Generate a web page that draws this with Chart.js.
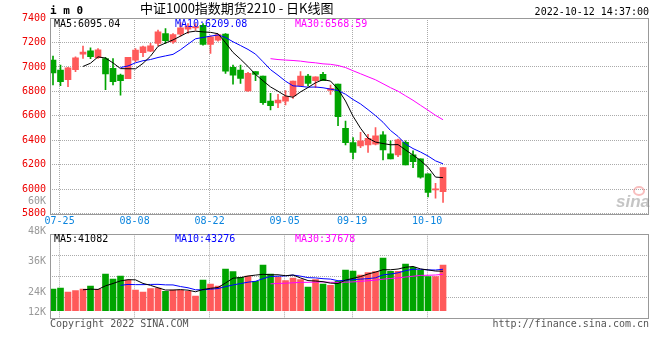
<!DOCTYPE html>
<html>
<head>
<meta charset="utf-8">
<script src="https://cdn.jsdelivr.net/npm/chart.js@4.4.1/dist/chart.umd.min.js"></script>
<style>
  html, body { margin: 0; padding: 0; background: #fff; }
  #wrap { position: relative; width: 660px; height: 360px; }
  #wrap canvas { position: absolute; left: 0; top: 0; }
</style>
</head>
<body>
<div id="wrap">
  <canvas id="kline" width="660" height="360"></canvas>
  <canvas id="volume" width="660" height="360"></canvas>
</div>
<script>
// trading days shown, 2022
const dates = ['07-22','07-25','07-26','07-27','07-28','07-29','08-01','08-02','08-03','08-04','08-05',
  '08-08','08-09','08-10','08-11','08-12','08-15','08-16','08-17','08-18','08-19',
  '08-22','08-23','08-24','08-25','08-26','08-29','08-30','08-31','09-01','09-02',
  '09-05','09-06','09-07','09-08','09-09','09-13','09-14','09-15','09-16',
  '09-19','09-20','09-21','09-22','09-23','09-26','09-27','09-28','09-29','09-30',
  '10-10','10-11','10-12'];
const axisDates = ['07-25','08-08','08-22','09-05','09-19','10-10'];

const opens = [7056,6974,6895,6977,7105,7132,7075,7069,6988,6933, 6904,7056,7116,7129,7192,7273,7205,7268,7309,7318,
  7341,7184,7219,7268,6996,6974,6803,6961,6925,6721, 6705,6721,6762,6846,6925,6887,6939,6808,6860,6498,
  6381,6354,6362,6368,6444,6289,6281,6384,6281,6248, 6126,5995,5981];
const highs = [7088,7015,6996,7083,7170,7156,7151,7078,7069,6942, 7078,7151,7170,7192,7301,7314,7273,7363,7355,7355,
  7355,7254,7268,7273,7015,7015,6955,6961,6925,6784, 6776,6806,6884,6961,6939,6920,6955,6852,6860,6558,
  6422,6466,6449,6504,6471,6395,6411,6395,6313,6248, 6126,6049,6177];
const lows = [6852,6846,6838,6961,7069,7067,7069,6814,6852,6770, 6904,7042,7083,7124,7173,7192,7192,7252,7273,7300,
  7178,7110,7211,6947,6860,6865,6800,6887,6694,6648, 6667,6689,6743,6838,6844,6830,6887,6776,6520,6362,
  6248,6340,6300,6362,6240,6248,6267,6199,6177,6090, 5938,5927,5892];
const closes = [6952,6879,6993,7075,7121,7083,7140,6942,6879,6887, 7078,7137,7165,7173,7287,7214,7265,7320,7333,7330,
  7184,7246,7265,6966,6933,6906,6947,6939,6708,6683, 6729,6757,6884,6925,6865,6920,6887,6825,6593,6381,
  6300,6395,6417,6436,6321,6248,6403,6199,6226,6098, 5973,6000,6177];
const volumes = [22560,23600,19430,20820,22560,25680,22210,38170,32970,36090, 31920,21510,19430,22900,23600,20130,21510,21510,20130,15270,
  31920,27760,25680,43380,40600,34700,36090,30540,47540,38170, 34700,31230,34010,32270,24640,32270,27760,26370,30540,42330,
  41290,37130,39560,40600,54830,40950,40950,48580,45110,41990, 35390,35390,47540];
const volTickLabels = ['60K','48K','36K','24K','12K'];
// legend values as printed on the chart
const priceLegend = ['MA5:6095.04', 'MA10:6209.08', 'MA30:6568.59'];
const volLegend = ['MA5:41082', 'MA10:43276', 'MA30:37678'];

const RED = '#ff5a5a', GREEN = '#00a400';
const MA_COLORS = ['#000000', '#0000ff', '#ff00ff'];
const MONO = '"DejaVu Sans Mono", monospace';
const up = closes.map((c, i) => c >= opens[i]);
const candleColor = (ctx) => (up[ctx.dataIndex] ? RED : GREEN);

function movingAvg(src, n) {
  return src.map((_, i) => i < n - 1 ? null : src.slice(i - n + 1, i + 1).reduce((a, b) => a + b, 0) / n);
}
function toPoints(arr) {
  return arr.map((v, i) => ({ x: i, y: v })).filter((p) => p.y !== null);
}
function maLine(label, arr, color) {
  return { type: 'line', label, data: toPoints(arr), borderColor: color, borderWidth: 1, pointRadius: 0, tension: 0, order: 0 };
}
function xScale(showLabels) {
  return {
    type: 'linear', min: -0.4, max: 79.5, offset: false,
    afterBuildTicks: (s) => { s.ticks = axisDates.map((d) => ({ value: dates.indexOf(d) - 0.12 })); },
    afterFit: (s) => { s.height = showLabels ? 16 : 0; },
    ticks: { display: showLabels, autoSkip: false, maxRotation: 0, padding: 2, color: '#0a84de',
      font: { family: MONO, size: 10 }, callback: (v, i) => axisDates[i] },
    grid: { color: '#aaaaaa', drawTicks: false, offset: false },
    border: { display: false, dash: [1, 1] }
  };
}
function label(ctx, str, x, yMid, color, align, font) {
  ctx.font = font || ('10px ' + MONO);
  ctx.fillStyle = color;
  ctx.textAlign = align || 'left';
  ctx.textBaseline = 'alphabetic';
  ctx.fillText(str, x, yMid + 3.6);
}
function frame(ctx, a) {
  ctx.save();
  ctx.strokeStyle = '#999999';
  ctx.lineWidth = 1;
  ctx.strokeRect(Math.round(a.left) + 0.5, Math.round(a.top) + 0.5, Math.round(a.right - a.left) - 1, Math.round(a.bottom - a.top));
  ctx.restore();
}

const ma5 = movingAvg(closes, 5), ma10 = movingAvg(closes, 10), ma30 = movingAvg(closes, 30);
const vma5 = movingAvg(volumes, 5), vma10 = movingAvg(volumes, 10), vma30 = movingAvg(volumes, 30);
const legendX = [54, 175, 295];

const klineDecor = {
  id: 'klineDecor',
  afterDraw(chart) {
    const ctx = chart.ctx, a = chart.chartArea;
    ctx.save();
    frame(ctx, a);
    label(ctx, 'i m 0', 50, 10.5, '#000', 'left', 'bold 11px ' + MONO);
    label(ctx, '中证1000指数期货2210 - 日K线图', 140, 9.5, '#000', 'left', '13px "Noto Sans CJK SC"');
    label(ctx, '2022-10-12 14:37:00', 649, 11.5, '#000', 'right');
    priceLegend.forEach((t, i) => label(ctx, t, legendX[i], 23, MA_COLORS[i]));
    // sina watermark
    ctx.strokeStyle = 'rgba(240,110,110,0.45)';
    ctx.lineWidth = 2;
    ctx.beginPath();
    ctx.ellipse(639, 191, 5, 4, 0, 0, Math.PI * 2);
    ctx.stroke();
    ctx.font = 'italic bold 17px "Liberation Sans"';
    ctx.fillStyle = 'rgba(140,140,140,0.5)';
    ctx.textAlign = 'right';
    ctx.fillText('sina', 650, 207);
    ctx.restore();
  }
};

const volDecor = {
  id: 'volDecor',
  afterDraw(chart) {
    const ctx = chart.ctx, a = chart.chartArea;
    ctx.save();
    frame(ctx, a);
    const ys = [200.3, 230.5, 260, 291, 311.3];
    volTickLabels.forEach((t, i) => label(ctx, t, 46, ys[i], '#999999', 'right'));
    volLegend.forEach((t, i) => label(ctx, t, legendX[i], 238.5, MA_COLORS[i]));
    label(ctx, 'Copyright 2022 SINA.COM', 50, 323.7, '#555555');
    label(ctx, 'http://finance.sina.com.cn', 649, 323.7, '#555555', 'right');
    ctx.restore();
  }
};

const common = {
  responsive: false, animation: false, devicePixelRatio: 1, events: [],
  plugins: { legend: { display: false }, tooltip: { enabled: false } }
};

new Chart(document.getElementById('kline'), {
  type: 'bar',
  data: {
    datasets: [
      maLine('MA5', ma5, MA_COLORS[0]),
      maLine('MA10', ma10, MA_COLORS[1]),
      maLine('MA30', ma30, MA_COLORS[2]),
      { label: 'body', data: opens.map((o, i) => ({ x: i, y: [o, closes[i]] })), backgroundColor: candleColor,
        barThickness: 6, minBarLength: 1, grouped: false, order: 1 },
      { label: 'wick', data: lows.map((l, i) => ({ x: i, y: [l, highs[i]] })), backgroundColor: candleColor,
        barThickness: 1, grouped: false, order: 2 }
    ]
  },
  options: {
    ...common,
    layout: { padding: { left: 0, right: 10.7, top: 18, bottom: 130.3 } },
    scales: {
      x: xScale(true),
      y: {
        min: 5800, max: 7400,
        afterFit: (s) => { s.width = 50; },
        ticks: { stepSize: 200, padding: 4, color: '#ee0000', font: { family: MONO, size: 10 }, callback: (v) => String(v) },
        grid: { color: '#aaaaaa', drawTicks: false },
        border: { display: false, dash: [1, 1] }
      }
    }
  },
  plugins: [klineDecor]
});

new Chart(document.getElementById('volume'), {
  type: 'bar',
  data: {
    datasets: [
      maLine('MA5', vma5, MA_COLORS[0]),
      maLine('MA10', vma10, MA_COLORS[1]),
      maLine('MA30', vma30, MA_COLORS[2]),
      { label: 'volume', data: volumes.map((v, i) => ({ x: i, y: v })), backgroundColor: candleColor,
        barThickness: 6, grouped: false, order: 1 }
    ]
  },
  options: {
    ...common,
    layout: { padding: { left: 0, right: 10.7, top: 234.3, bottom: 42 } },
    scales: {
      x: xScale(false),
      y: {
        min: -7600, max: 79530,
        afterBuildTicks: (s) => {
          const step = (s.max - s.min) / 4;
          s.ticks = [0, 1, 2, 3, 4].map((k) => ({ value: s.min + k * step }));
        },
        afterFit: (s) => { s.width = 50; },
        ticks: { display: false },
        grid: { color: '#aaaaaa', drawTicks: false },
        border: { display: false, dash: [1, 1] }
      }
    }
  },
  plugins: [volDecor]
});
</script>
</body>
</html>
